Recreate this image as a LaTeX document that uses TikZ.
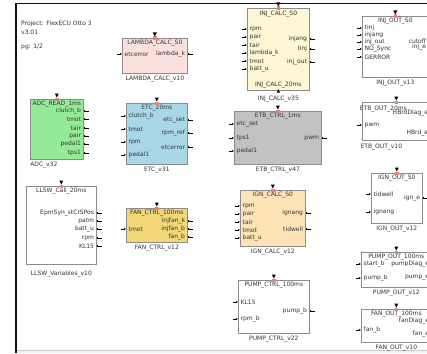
\documentclass[tikz,border=0pt]{standalone}
\usepackage{fontspec}
\setmainfont{DejaVu Sans}
\usetikzlibrary{positioning,arrows.meta}

\definecolor{frameline}{HTML}{111111}
\definecolor{boxline}{HTML}{8C8C8C}
\definecolor{txt}{HTML}{333333}
\definecolor{lambdafill}{HTML}{FBE1DD}
\definecolor{etcfill}{HTML}{A8D7E7}
\definecolor{adcfill}{HTML}{95EA95}
\definecolor{fanfill}{HTML}{F2D678}
\definecolor{injfill}{HTML}{FFF6D6}
\definecolor{etbfill}{HTML}{C2C2C2}
\definecolor{ignfill}{HTML}{FDE3B6}
\definecolor{trigred}{HTML}{E8837A}

\tikzset{
  base/.style={font=\fontsize{6}{7}\selectfont, text=txt, inner sep=0pt},
  block/.style={draw=boxline, line width=0.7pt, anchor=north west, inner sep=0pt},
  inport/.style={base, anchor=west, xshift=2.5pt},
  outport/.style={base, anchor=east, xshift=-2.5pt},
  instub/.style={{Latex[length=2pt,width=2pt]}-, line width=0.5pt},
  outstub/.style={{Bar[width=2.5pt,line width=0.5pt]}-, line width=0.5pt},
}

\begin{document}
\begin{tikzpicture}[x=1pt, y=-1pt]
    \useasboundingbox (0,0) rectangle (427,353);
    \clip (0,0) rectangle (427,353);

    % Sheet frame
    \fill[gray!12] (16,350) rectangle (427,353);
    \draw[gray!40, line width=0.6pt] (16,350) -- (427,350);
    \draw[frameline, line width=1.5pt] (16,353) -- (16,3.5) -- (427,3.5);

    % Sheet info
    \node[base, anchor=west] (proj) at (21,24) {Project: FlexECU Otto 3};
    \node[base, anchor=west] (ver) at (21,32) {v3.01};
    \node[base, anchor=west] (pg) at (21,47) {pg: 1/2};

    % Nodes
    \node[block, fill=lambdafill, minimum width=65pt, minimum height=35pt] (lam) at (122,38) {};
    \node[base, below=2pt of lam.north] (lam-title) {LAMBDA\_CALC\_S0};
    \node[base, below=2pt of lam] (lam-ver) {LAMBDA\_CALC\_v10};

    \node[block, fill=etcfill, minimum width=61pt, minimum height=61pt] (etc) at (126,103) {};
    \node[base, below=2pt of etc.north] (etc-title) {ETC\_20ms};
    \node[base, below=2pt of etc] (etc-ver) {ETC\_v31};

    \node[block, fill=adcfill, minimum width=53pt, minimum height=60pt] (adc) at (30,99) {};
    \node[base, below=2pt of adc.north] (adc-title) {ADC\_READ\_1ms};
    \node[base, below=2pt of adc, xshift=-13pt] (adc-ver) {ADC\_v32};

    \node[block, fill=white, minimum width=70pt, minimum height=78pt] (llsw) at (26,186) {};
    \node[base, below=2pt of llsw.north] (llsw-title) {LLSW\_Call\_20ms};
    \node[base, below=6pt of llsw] (llsw-ver) {LLSW\_Variables\_v10};

    \node[block, fill=fanfill, minimum width=61pt, minimum height=34pt] (fan) at (126,208) {};
    \node[base, below=2pt of fan.north] (fan-title) {FAN\_CTRL\_100ms};
    \node[base, below=2pt of fan] (fan-ver) {FAN\_CTRL\_v12};

    \node[block, fill=injfill, minimum width=62pt, minimum height=82pt] (inj) at (247,8) {};
    \node[base, below=2.5pt of inj.north] (inj-title) {INJ\_CALC\_S0};
    \node[base, above=3pt of inj.south] (inj-task) {INJ\_CALC\_20ms};
    \node[base, below=5pt of inj] (inj-ver) {INJ\_CALC\_v35};

    \node[block, fill=etbfill, minimum width=87pt, minimum height=53pt] (etb) at (234,111) {};
    \node[base, below=2pt of etb.north] (etb-title) {ETB\_CTRL\_1ms};
    \node[base, below=2pt of etb] (etb-ver) {ETB\_CTRL\_v47};

    \node[block, fill=ignfill, minimum width=65pt, minimum height=56pt] (ign) at (240,190) {};
    \node[base, below=2pt of ign.north] (ign-title) {IGN\_CALC\_S0};
    \node[base, below=2pt of ign] (ign-ver) {IGN\_CALC\_v12};

    \node[block, fill=white, minimum width=71pt, minimum height=53pt] (pump) at (238,280) {};
    \node[base, below=2pt of pump.north] (pump-title) {PUMP\_CTRL\_100ms};
    \node[base, below=2pt of pump] (pump-ver) {PUMP\_CTRL\_v22};

    \node[block, fill=white, minimum width=66pt, minimum height=61pt] (injo) at (362,16) {};
    \node[base, below=2pt of injo.north] (injo-title) {INJ\_OUT\_S0};
    \node[base, below=2pt of injo] (injo-ver) {INJ\_OUT\_v13};

    \node[block, fill=white, minimum width=68pt, minimum height=38pt] (etbo) at (362,102) {};
    \node[base, below=4pt of etbo.north, xshift=-13pt] (etbo-title) {ETB\_OUT\_20ms};
    \node[base, below=3pt of etbo, xshift=-15pt] (etbo-ver) {ETB\_OUT\_v10};

    \node[block, fill=white, minimum width=51pt, minimum height=50pt] (igno) at (371,173) {};
    \node[base, below=2pt of igno.north] (igno-title) {IGN\_OUT\_S0};
    \node[base, below=2pt of igno] (igno-ver) {IGN\_OUT\_v12};

    \node[block, fill=white, minimum width=70pt, minimum height=35pt] (pumpo) at (361,252) {};
    \node[base, below=1.5pt of pumpo.north] (pumpo-title) {PUMP\_OUT\_100ms};
    \node[base, below=2pt of pumpo] (pumpo-ver) {PUMP\_OUT\_v12};

    \node[block, fill=white, minimum width=70pt, minimum height=33pt] (fano) at (361,309) {};
    \node[base, below=1.5pt of fano.north] (fano-title) {FAN\_OUT\_100ms};
    \node[base, below=2pt of fano] (fano-ver) {FAN\_OUT\_v10};

    % Ports
    \foreach \lab/\y [count=\i] in {etcerror/54} {
        \node[inport] (lam-in\i) at (lam.west |- 0,\y) {\lab};
        \draw[instub] (lam.west |- lam-in\i) -- ++(-5,0);
    }
    \foreach \lab/\y [count=\i] in {lambda\_k/54} {
        \node[outport] (lam-out\i) at (lam.east |- 0,\y) {\lab};
        \draw[outstub] (lam.east |- lam-out\i) -- ++(5,0);
    }
    \foreach \lab/\y [count=\i] in {clutch\_b/116, tmot/129, rpm/142, pedal1/155} {
        \node[inport] (etc-in\i) at (etc.west |- 0,\y) {\lab};
        \draw[instub] (etc.west |- etc-in\i) -- ++(-5,0);
    }
    \foreach \lab/\y [count=\i] in {etc\_set/120, rpm\_ref/133, etcerror/147} {
        \node[outport] (etc-out\i) at (etc.east |- 0,\y) {\lab};
        \draw[outstub] (etc.east |- etc-out\i) -- ++(5,0);
    }
    \foreach \lab/\y [count=\i] in {clutch\_b/111, tmot/119, tair/128, pair/136, pedal1/144, tps1/153} {
        \node[outport] (adc-out\i) at (adc.east |- 0,\y) {\lab};
        \draw[outstub] (adc.east |- adc-out\i) -- ++(5,0);
    }
    \foreach \lab/\y [count=\i] in {EpmSyn\_stCrSPos/213, patm/221, batt\_u/229, rpm/238, KL15/246} {
        \node[outport] (llsw-out\i) at (llsw.east |- 0,\y) {\lab};
        \draw[outstub] (llsw.east |- llsw-out\i) -- ++(5,0);
    }
    \foreach \lab/\y [count=\i] in {tmot/229} {
        \node[inport] (fan-in\i) at (fan.west |- 0,\y) {\lab};
        \draw[instub] (fan.west |- fan-in\i) -- ++(-5,0);
    }
    \foreach \lab/\y [count=\i] in {injfan\_k/221, injfan\_b/229, fan\_b/237} {
        \node[outport] (fan-out\i) at (fan.east |- 0,\y) {\lab};
        \draw[outstub] (fan.east |- fan-out\i) -- ++(5,0);
    }
    \foreach \lab/\y [count=\i] in {rpm/29, pair/37, tair/45, lambda\_k/53, tmot/61, batt\_u/69} {
        \node[inport] (inj-in\i) at (inj.west |- 0,\y) {\lab};
        \draw[instub] (inj.west |- inj-in\i) -- ++(-5,0);
    }
    \foreach \lab/\y [count=\i] in {injang/39, tinj/49, inj\_out/62} {
        \node[outport] (inj-out\i) at (inj.east |- 0,\y) {\lab};
        \draw[outstub] (inj.east |- inj-out\i) -- ++(5,0);
    }
    \foreach \lab/\y [count=\i] in {etc\_set/124, tps1/138, pedal1/151} {
        \node[inport] (etb-in\i) at (etb.west |- 0,\y) {\lab};
        \draw[instub] (etb.west |- etb-in\i) -- ++(-5,0);
    }
    \foreach \lab/\y [count=\i] in {pwm/138} {
        \node[outport] (etb-out\i) at (etb.east |- 0,\y) {\lab};
        \draw[outstub] (etb.east |- etb-out\i) -- ++(5,0);
    }
    \foreach \lab/\y [count=\i] in {rpm/206, pair/214, tair/222, tmot/230, batt\_u/238} {
        \node[inport] (ign-in\i) at (ign.west |- 0,\y) {\lab};
        \draw[instub] (ign.west |- ign-in\i) -- ++(-5,0);
    }
    \foreach \lab/\y [count=\i] in {ignang/213, tidwell/229} {
        \node[outport] (ign-out\i) at (ign.east |- 0,\y) {\lab};
        \draw[outstub] (ign.east |- ign-out\i) -- ++(5,0);
    }
    \foreach \lab/\y [count=\i] in {KL15/302, rpm\_b/319} {
        \node[inport] (pump-in\i) at (pump.west |- 0,\y) {\lab};
        \draw[instub] (pump.west |- pump-in\i) -- ++(-5,0);
    }
    \foreach \lab/\y [count=\i] in {pump\_b/311} {
        \node[outport] (pump-out\i) at (pump.east |- 0,\y) {\lab};
        \draw[outstub] (pump.east |- pump-out\i) -- ++(5,0);
    }
    \foreach \lab/\y [count=\i] in {tinj/28, injang/35, inj\_out/42, NO\_Sync/49, GERROR/57} {
        \node[inport] (injo-in\i) at (injo.west |- 0,\y) {\lab};
        \draw[instub] (injo.west |- injo-in\i) -- ++(-5,0);
    }
    \foreach \lab/\y [count=\i] in {cutoff/41, inj\_e/47} {
        \node[outport] (injo-out\i) at (injo.east |- 0,\y) {\lab};
        \draw[outstub] (injo.east |- injo-out\i) -- ++(5,0);
    }
    \foreach \lab/\y [count=\i] in {pwm/125} {
        \node[inport] (etbo-in\i) at (etbo.west |- 0,\y) {\lab};
        \draw[instub] (etbo.west |- etbo-in\i) -- ++(-5,0);
    }
    \foreach \lab/\y [count=\i] in {HBrdDiag\_e/113, HBrd\_e/133} {
        \node[outport] (etbo-out\i) at (etbo.east |- 0,\y) {\lab};
        \draw[outstub] (etbo.east |- etbo-out\i) -- ++(5,0);
    }
    \foreach \lab/\y [count=\i] in {tidwell/194, ignang/212} {
        \node[inport] (igno-in\i) at (igno.west |- 0,\y) {\lab};
        \draw[instub] (igno.west |- igno-in\i) -- ++(-5,0);
    }
    \foreach \lab/\y [count=\i] in {ign\_e/198} {
        \node[outport] (igno-out\i) at (igno.east |- 0,\y) {\lab};
        \draw[outstub] (igno.east |- igno-out\i) -- ++(5,0);
    }
    \foreach \lab/\y [count=\i] in {start\_b/264, pump\_b/278} {
        \node[inport] (pumpo-in\i) at (pumpo.west |- 0,\y) {\lab};
        \draw[instub] (pumpo.west |- pumpo-in\i) -- ++(-5,0);
    }
    \foreach \lab/\y [count=\i] in {pumpDiag\_e/264, pump\_e/278} {
        \node[outport] (pumpo-out\i) at (pumpo.east |- 0,\y) {\lab};
        \draw[outstub] (pumpo.east |- pumpo-out\i) -- ++(5,0);
    }
    \foreach \lab/\y [count=\i] in {fan\_b/330} {
        \node[inport] (fano-in\i) at (fano.west |- 0,\y) {\lab};
        \draw[instub] (fano.west |- fano-in\i) -- ++(-5,0);
    }
    \foreach \lab/\y [count=\i] in {fanDiag\_e/321, fan\_e/334} {
        \node[outport] (fano-out\i) at (fano.east |- 0,\y) {\lab};
        \draw[outstub] (fano.east |- fano-out\i) -- ++(5,0);
    }

    % Triggers
    \foreach \b in {lam, etc, adc, llsw, fan, inj, etb, ign, pump, injo, etbo, igno, pumpo, fano} {
        \fill[trigred] ([xshift=-1.8pt,yshift=-2pt]\b.north) rectangle ([xshift=1.8pt,yshift=1.5pt]\b.north);
        \fill ([xshift=-2pt,yshift=5.5pt]\b.north) -- ([xshift=2pt,yshift=5.5pt]\b.north) -- ([yshift=1.5pt]\b.north) -- cycle;
    }
    \fill ([xshift=-1.8pt,yshift=-2pt]inj.south) -- ([xshift=1.8pt,yshift=-2pt]inj.south) -- ([yshift=1.5pt]inj.south) -- cycle;
\end{tikzpicture}
\end{document}
